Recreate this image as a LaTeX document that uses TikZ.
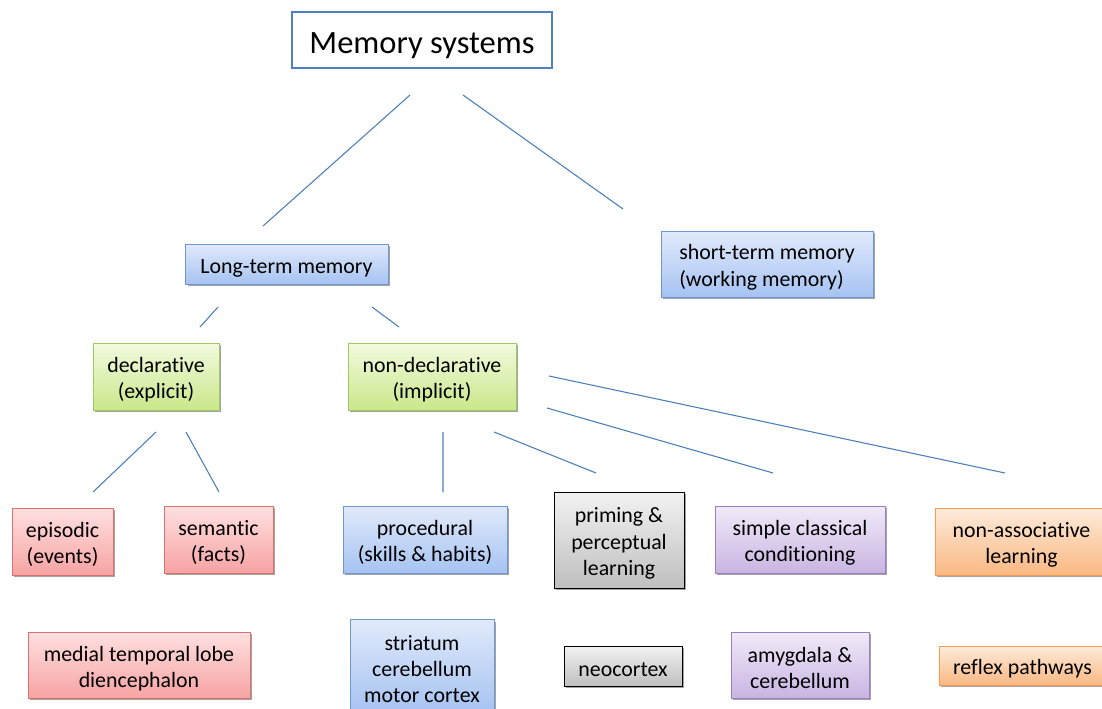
\documentclass[tikz,border=0pt]{standalone}
\usepackage{fontspec}
\setmainfont{Carlito}[RawFeature={-liga;-clig;-calt;-dlig}]
\usetikzlibrary{shadows}
\definecolor{lineblue}{HTML}{4A7EBB}
\definecolor{titleblue}{HTML}{4F81BD}
\definecolor{bluetop}{HTML}{E1EAFB}
\definecolor{bluebot}{HTML}{A6C3F2}
\definecolor{blueline}{HTML}{7197D3}
% strut on the first line, puts the text a little lower in its box
\newcommand{\dn}{\rule{0pt}{1em}}
\tikzset{
	box/.style={rectangle,draw,inner sep=0pt,align=center,font=\fontsize{16.4}{19.6}\selectfont,
		drop shadow={shadow xshift=1.8pt,shadow yshift=-1.8pt,fill=black!60,opacity=.6}},
	bluebox/.style={box,top color=bluetop,bottom color=bluebot,draw=blueline},
	greenbox/.style={box,top color={rgb,255:red,242;green,250;blue,223},bottom color={rgb,255:red,201;green,232;blue,138},draw={rgb,255:red,164;green,199;blue,102}},
	redbox/.style={box,top color={rgb,255:red,255;green,224;blue,224},bottom color={rgb,255:red,247;green,163;blue,163},draw={rgb,255:red,217;green,113;blue,111}},
	graybox/.style={box,top color={rgb,255:red,242;green,242;blue,242},bottom color={rgb,255:red,191;green,191;blue,191},draw=black},
	purplebox/.style={box,top color={rgb,255:red,241;green,234;blue,249},bottom color={rgb,255:red,200;green,181;blue,226},draw={rgb,255:red,154;green,126;blue,193}},
	orangebox/.style={box,top color={rgb,255:red,253;green,235;blue,219},bottom color={rgb,255:red,250;green,184;blue,130},draw={rgb,255:red,247;green,154;blue,82}},
	link/.style={draw=lineblue,line width=0.8pt}
}
\begin{document}
\begin{tikzpicture}[x=0.75pt,y=-0.75pt]
	\useasboundingbox (0,0) rectangle (1102,708);
	% top
	\node (ms) [rectangle,draw=titleblue,line width=2pt,fill=white,minimum width=195pt,minimum height=42pt,font=\fontsize{24.4}{29}\selectfont] at (422,40) {\dn Memory systems};
	\node (ltm) [bluebox,minimum width=152pt,minimum height=30pt] at (286.5,264) {\dn Long-term memory};
	\node (stm) [bluebox,minimum width=159pt,minimum height=49.5pt,align=left] at (767,264) {\dn short-term memory\\(working memory)};
	% second row
	\node (decl) [greenbox,minimum width=94.5pt,minimum height=50.25pt] at (156,376.5) {\dn declarative\\(explicit)};
	\node (nondecl) [greenbox,minimum width=126pt,minimum height=50.25pt] at (432,376.5) {\dn non-declarative\\(implicit)};
	% third row
	\node (epi) [redbox,minimum width=75.75pt,minimum height=50.25pt] at (62.5,541.5) {\dn episodic\\(events)};
	\node (sem) [redbox,minimum width=81.75pt,minimum height=50.25pt] at (218.5,539.5) {\dn semantic\\(facts)};
	\node (proc) [bluebox,minimum width=123pt,minimum height=50.25pt] at (425,539.5) {\dn procedural\\(skills \& habits)};
	\node (prim) [graybox,minimum width=97.5pt,minimum height=72pt] at (619,540) {\dn priming \&\\perceptual\\learning};
	\node (cond) [purplebox,minimum width=127.5pt,minimum height=50.25pt] at (800,539.5) {\dn simple classical\\conditioning};
	\node (nonassoc) [orangebox,minimum width=129.75pt,minimum height=50.25pt] at (1021.5,541.5) {\dn non-associative\\learning};
	% brain areas
	\node (mtl) [redbox,minimum width=166.5pt,minimum height=49.5pt] at (139,665) {\dn medial temporal lobe\\diencephalon};
	\node (stri) [bluebox,minimum width=108pt,minimum height=69pt] at (422,665.5) {\dn striatum\\cerebellum\\motor cortex};
	\node (neo) [graybox,minimum width=88.5pt,minimum height=30pt] at (623,666) {\dn neocortex};
	\node (amyg) [purplebox,minimum width=103.5pt,minimum height=49.5pt] at (800,665) {\dn amygdala \&\\cerebellum};
	\node (refl) [orangebox,minimum width=125.25pt,minimum height=29.25pt] at (1022.5,665.5) {\dn reflex pathways};
	% line ends
	\coordinate (ms-a) at (410,95);
	\coordinate (ms-b) at (463,95);
	\coordinate (ltm-in) at (263,226);
	\coordinate (stm-in) at (623,209);
	\coordinate (ltm-a) at (218,307);
	\coordinate (ltm-b) at (372,307);
	\coordinate (decl-in) at (200,327);
	\coordinate (nondecl-in) at (399,327);
	\coordinate (decl-a) at (156,432);
	\coordinate (decl-b) at (186,432);
	\coordinate (epi-in) at (93,492);
	\coordinate (sem-in) at (219,492);
	\coordinate (nd-a) at (443,432);
	\coordinate (nd-b) at (494,432);
	\coordinate (nd-c) at (547,408);
	\coordinate (nd-d) at (549,376);
	\coordinate (proc-in) at (443,492);
	\coordinate (prim-in) at (596,473);
	\coordinate (cond-in) at (773,473);
	\coordinate (na-in) at (1005,473);
	\draw[link] (ms-a) -- (ltm-in) (ms-b) -- (stm-in);
	\draw[link] (ltm-a) -- (decl-in) (ltm-b) -- (nondecl-in);
	\draw[link] (decl-a) -- (epi-in) (decl-b) -- (sem-in);
	\draw[link] (nd-a) -- (proc-in) (nd-b) -- (prim-in) (nd-c) -- (cond-in) (nd-d) -- (na-in);
\end{tikzpicture}
\end{document}
